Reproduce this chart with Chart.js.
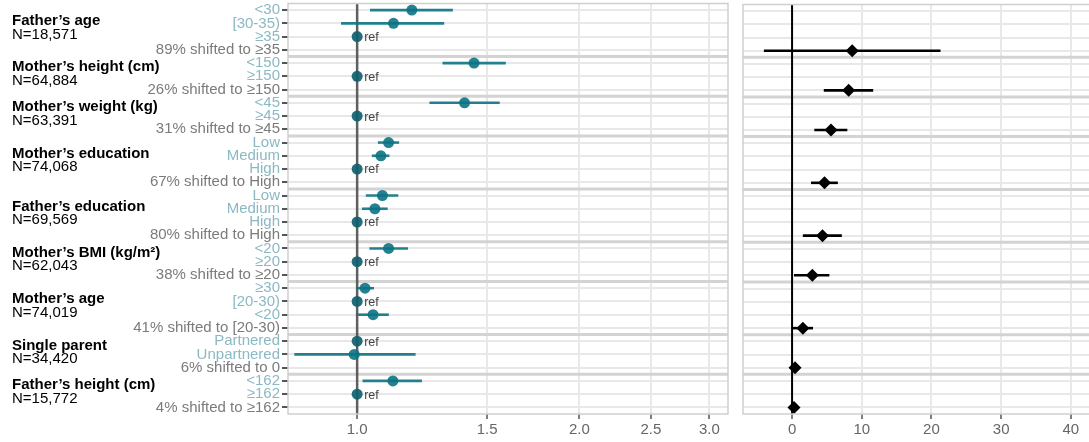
<!DOCTYPE html>
<html>
<head>
<meta charset="utf-8">
<script src="https://cdn.jsdelivr.net/npm/chart.js@4.4.0/dist/chart.umd.min.js"></script>
<style>
  html, body { margin: 0; padding: 0; background: #fff; overflow: hidden; }
  #wrap { position: relative; width: 1089px; height: 442px; overflow: hidden; }
  #left { position: absolute; left: 0; top: -2px; }
  #right { position: absolute; left: 735px; top: -2px; }
</style>
</head>
<body>
<div id="wrap">
  <canvas id="left" width="735" height="444"></canvas>
  <canvas id="right" width="362" height="444"></canvas>
</div>
<script>
// exposures, one block per group
const groupNames = ['Father’s age', 'Mother’s height (cm)', 'Mother’s weight (kg)', 'Mother’s education',
  'Father’s education', 'Mother’s BMI (kg/m²)', 'Mother’s age', 'Single parent', 'Father’s height (cm)'];
const groupN = ['N=18,571', 'N=64,884', 'N=63,391', 'N=74,068', 'N=69,569', 'N=62,043', 'N=74,019', 'N=34,420', 'N=15,772'];
const levelLabels = [
  ['<30', '[30-35)', '≥35'],
  ['<150', '≥150'],
  ['<45', '≥45'],
  ['Low', 'Medium', 'High'],
  ['Low', 'Medium', 'High'],
  ['<20', '≥20'],
  ['≥30', '[20-30)', '<20'],
  ['Partnered', 'Unpartnered'],
  ['<162', '≥162']
];
const shiftLabels = ['89% shifted to ≥35', '26% shifted to ≥150', '31% shifted to ≥45', '67% shifted to High',
  '80% shifted to High', '38% shifted to ≥20', '41% shifted to [20-30)', '6% shifted to 0', '4% shifted to ≥162'];

// odds ratios (null interval = reference level)
const orEst = [[1.186, 1.12, 1], [1.44, 1], [1.398, 1], [1.103, 1.077, 1], [1.082, 1.057, 1], [1.103, 1], [1.025, 1, 1.051], [1, 0.991], [1.118, 1]];
const orLow = [[1.041, 0.951, null], [1.305, null], [1.253, null], [1.067, 1.047, null], [1.0275, 1.015, null], [1.039, null], [0.998, null, 1.001], [null, 0.822], [1.017, null]];
const orHigh = [[1.348, 1.312, null], [1.59, null], [1.56, null], [1.14, 1.106, null], [1.137, 1.10, null], [1.172, null], [1.054, null, 1.104], [null, 1.2], [1.224, null]];

// effect of the shift
const shiftEst = [8.63, 8.12, 5.59, 4.65, 4.37, 2.91, 1.55, 0.42, 0.28];
const shiftLow = [-4.04, 4.55, 3.19, 2.72, 1.55, 0.28, 0.14, 0.05, -0.05];
const shiftHigh = [21.3, 11.64, 7.93, 6.57, 7.14, 5.35, 3.0, 0.8, 0.6];

const orTicks = [1, 1.5, 2, 2.5, 3];
const shiftTicks = [0, 10, 20, 30, 40];

const rowLabels = [], isShiftRow = [], groupRows = [];
const orPoints = [], refPoints = [], shiftPoints = [];
groupNames.forEach((g, gi) => {
  const first = rowLabels.length;
  levelLabels[gi].forEach((lab, li) => {
    const row = rowLabels.length;
    rowLabels.push(lab);
    isShiftRow.push(false);
    if (orLow[gi][li] === null) refPoints.push({ x: orEst[gi][li], y: row });
    else orPoints.push({ x: orEst[gi][li], y: row, lo: orLow[gi][li], hi: orHigh[gi][li] });
  });
  const row = rowLabels.length;
  rowLabels.push(shiftLabels[gi]);
  isShiftRow.push(true);
  shiftPoints.push({ x: shiftEst[gi], y: row, lo: shiftLow[gi], hi: shiftHigh[gi] });
  groupRows.push([first, row]);
});
const rowIndex = rowLabels.map((l, i) => i);

Chart.defaults.font.family = "'Liberation Sans', Arial, sans-serif";
Chart.defaults.font.size = 15;

const teal = 'rgba(12,115,132,0.9)';

const panelDecor = {
  id: 'panelDecor',
  beforeDatasetsDraw(chart, args, o) {
    const { ctx, chartArea: a, scales: { x, y } } = chart;
    ctx.save();
    ctx.strokeStyle = '#d3d3d3';
    ctx.lineWidth = 3;
    groupRows.slice(1).forEach(([first]) => {
      const py = y.getPixelForValue(first - 0.5);
      ctx.beginPath(); ctx.moveTo(a.left, py); ctx.lineTo(a.right, py); ctx.stroke();
    });
    // reference line
    const rx = x.getPixelForValue(o.refValue);
    ctx.strokeStyle = o.refColor;
    ctx.lineWidth = o.refWidth;
    ctx.beginPath(); ctx.moveTo(rx, a.top); ctx.lineTo(rx, a.bottom); ctx.stroke();
    // intervals
    ctx.strokeStyle = o.barColor;
    ctx.lineWidth = 2.6;
    chart.data.datasets.forEach(ds => ds.data.forEach(p => {
      if (p.lo === undefined) return;
      const py = y.getPixelForValue(p.y);
      ctx.beginPath();
      ctx.moveTo(Math.max(a.left, x.getPixelForValue(p.lo)), py);
      ctx.lineTo(Math.min(a.right, x.getPixelForValue(p.hi)), py);
      ctx.stroke();
    }));
    ctx.restore();
  },
  afterDatasetsDraw(chart, args, o) {
    const { ctx, chartArea: a, scales: { x, y } } = chart;
    ctx.save();
    if (o.refText) {
      ctx.fillStyle = '#444';
      ctx.font = "12.5px 'Liberation Sans', Arial, sans-serif";
      ctx.textBaseline = 'middle';
      refPoints.forEach(p => ctx.fillText('ref', x.getPixelForValue(p.x) + 7, y.getPixelForValue(p.y) + 1));
    }
    ctx.strokeStyle = '#cfcfcf';
    ctx.lineWidth = 1.5;
    ctx.strokeRect(a.left, a.top, a.right - a.left, a.bottom - a.top);
    if (o.titles) {
      ctx.textBaseline = 'middle';
      ctx.fillStyle = '#000';
      groupRows.forEach(([first, last], gi) => {
        const mid = (y.getPixelForValue(first) + y.getPixelForValue(last)) / 2;
        ctx.font = "bold 15px 'Liberation Sans', Arial, sans-serif";
        ctx.fillText(groupNames[gi], 12, mid - 9);
        ctx.font = "15px 'Liberation Sans', Arial, sans-serif";
        ctx.fillText(groupN[gi], 12, mid + 4.5);
      });
    }
    ctx.restore();
  }
};

// rows run top to bottom, one tick per row
function yAxis(showLabels) {
  return {
    type: 'linear',
    reverse: true,
    min: -0.5,
    max: rowLabels.length - 0.5,
    afterBuildTicks: s => { s.ticks = rowIndex.map(v => ({ value: v })); },
    grid: { color: '#e8e8e8', lineWidth: 2, tickLength: showLabels ? 6 : 0, drawTicks: showLabels, tickColor: '#555', tickWidth: 2 },
    border: { display: false },
    ticks: {
      display: showLabels,
      autoSkip: false,
      padding: 2,
      callback: v => rowLabels[v],
      color: ctx => isShiftRow[ctx.index] ? '#7b7b7b' : '#8bb9c3'
    },
    afterFit: s => { s.width = showLabels ? 288 : 0; s.paddingTop = 0; s.paddingBottom = 0; }
  };
}

function xAxis(extra) {
  return Object.assign({
    grid: { color: '#e8e8e8', lineWidth: 2, tickLength: 5, tickColor: '#555', tickWidth: 1.5 },
    border: { display: false },
    afterFit: s => { s.height = 28; s.paddingLeft = 0; s.paddingRight = 0; }
  }, extra);
}

new Chart(document.getElementById('left'), {
  type: 'scatter',
  data: {
    datasets: [
      { data: orPoints, pointRadius: 5.5, pointBorderWidth: 0, backgroundColor: teal },
      { data: refPoints, pointRadius: 5.5, pointBorderWidth: 0, backgroundColor: 'rgba(16,96,110,0.92)' }
    ]
  },
  options: {
    responsive: false,
    animation: false,
    events: [],
    layout: { padding: { top: 0, right: 7, bottom: 0, left: 0 } },
    plugins: {
      legend: { display: false },
      tooltip: { enabled: false },
      panelDecor: { refValue: 1, refColor: 'rgba(70,70,70,0.85)', refWidth: 2.5, barColor: teal, refText: true, titles: true }
    },
    scales: {
      x: xAxis({
        type: 'logarithmic',
        min: 0.806,
        max: 3.18,
        afterBuildTicks: s => { s.ticks = orTicks.map(v => ({ value: v })); },
        ticks: { color: '#666', padding: 2, autoSkip: false, maxRotation: 0, callback: v => Number(v).toFixed(1) }
      }),
      y: yAxis(true)
    }
  },
  plugins: [panelDecor]
});

new Chart(document.getElementById('right'), {
  type: 'scatter',
  data: {
    datasets: [
      { data: shiftPoints, pointStyle: 'rectRot', pointRadius: 6.5, pointBorderWidth: 0, backgroundColor: '#000' }
    ]
  },
  options: {
    responsive: false,
    animation: false,
    events: [],
    layout: { padding: { top: 0, right: 0, bottom: 0, left: 8 } },
    plugins: {
      legend: { display: false },
      tooltip: { enabled: false },
      panelDecor: { refValue: 0, refColor: '#000', refWidth: 2, barColor: '#000', refText: false, titles: false }
    },
    scales: {
      x: xAxis({
        type: 'linear',
        min: -7.04,
        max: 42.82,
        afterBuildTicks: s => { s.ticks = shiftTicks.map(v => ({ value: v })); },
        ticks: { color: '#666', padding: 2, autoSkip: false, maxRotation: 0, callback: v => String(v) }
      }),
      y: yAxis(false)
    }
  },
  plugins: [panelDecor]
});
</script>
</body>
</html>
